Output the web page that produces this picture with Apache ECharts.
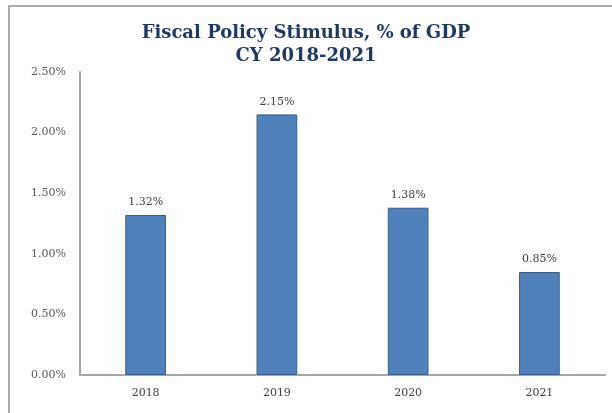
<!DOCTYPE html>
<html>
<head>
<meta charset="utf-8">
<script src="https://cdn.jsdelivr.net/npm/echarts@6/dist/echarts.min.js"></script>
<style>
  html, body { margin: 0; padding: 0; background: #ffffff; }
  #chart { width: 612px; height: 413px; }
</style>
</head>
<body>
<div id="chart"></div>
<script>
// Fiscal stimulus as a share of GDP, calendar years 2018-2021
const years = ['2018', '2019', '2020', '2021'];
const stimulusPct = [1.32, 2.15, 1.38, 0.85];
const yTicks = { min: 0, max: 2.5, step: 0.5 };

const serif = 'DejaVu Serif';
const chart = echarts.init(document.getElementById('chart'), null, { renderer: 'canvas' });

chart.setOption({
  animation: false,
  backgroundColor: '#ffffff',
  title: {
    text: 'Fiscal Policy Stimulus, % of GDP\nCY 2018-2021',
    left: 'center',
    top: 17,
    textStyle: {
      fontFamily: serif,
      fontWeight: 'bold',
      fontSize: 18,
      lineHeight: 23,
      color: '#1f3864'
    }
  },
  graphic: [{
    type: 'rect',
    shape: { x: 9, y: 6, width: 640, height: 440 },
    style: { fill: 'none', stroke: '#a9a9a9', lineWidth: 2 },
    silent: true,
    z: -1
  }],
  grid: { left: 80, right: 7, top: 72, bottom: 38 },
  xAxis: {
    type: 'category',
    data: years,
    axisLine: { lineStyle: { color: '#a6a6a6', width: 2 } },
    axisTick: { show: false },
    axisLabel: {
      margin: 13,
      fontFamily: serif,
      fontSize: 11,
      color: '#404040'
    }
  },
  yAxis: {
    type: 'value',
    min: yTicks.min,
    max: yTicks.max,
    interval: yTicks.step,
    axisLine: { show: true, lineStyle: { color: '#a6a6a6', width: 2 } },
    axisTick: { show: false },
    splitLine: { show: false },
    axisLabel: {
      margin: 14,
      fontFamily: serif,
      fontSize: 11,
      color: '#595959',
      formatter: v => v.toFixed(2) + '%'
    }
  },
  series: [{
    type: 'bar',
    data: stimulusPct,
    barWidth: '31%',
    itemStyle: {
      color: '#4f81bd',
      borderColor: '#385d8a',
      borderWidth: 1
    },
    label: {
      show: true,
      position: 'top',
      distance: 7,
      fontFamily: serif,
      fontSize: 11,
      color: '#404040',
      formatter: p => p.value.toFixed(2) + '%'
    }
  }]
});
</script>
</body>
</html>
